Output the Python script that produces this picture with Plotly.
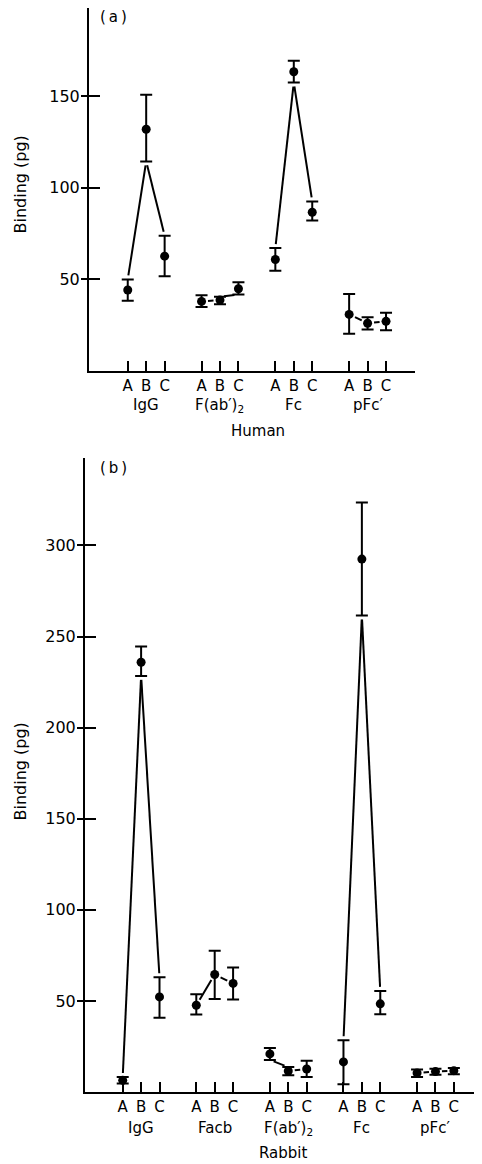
import plotly.graph_objects as go

# ---------------- data ----------------
human_groups = ["IgG", "F(ab′)<sub>2</sub>", "Fc", "pFc′"]
human_mean = [44.2, 132, 62.7, 38.0, 38.7, 44.9, 60.9, 163.4, 86.7, 30.9, 26.1, 27.1]
human_upper = [50.0, 150.8, 73.9, 41.3, 40.6, 48.4, 67.1, 169.4, 92.6, 42.0, 29.4, 31.8]
human_lower = [38.4, 114.4, 51.8, 34.9, 36.5, 41.8, 54.7, 157.5, 82.2, 20.4, 22.7, 22.2]

rabbit_groups = ["IgG", "Facb", "F(ab′)<sub>2</sub>", "Fc", "pFc′"]
rabbit_mean = [6.4, 235.9, 52.2, 47.6, 64.5, 59.6, 20.9, 11.5, 12.6, 16.5, 292.5, 48.4, 10.4, 11.2, 11.7]
rabbit_upper = [8.2, 244.5, 63.0, 53.7, 77.5, 68.4, 24.2, 13.7, 17.2, 28.4, 323.6, 55.5, 12.3, 12.8, 13.2]
rabbit_lower = [4.6, 228.4, 40.7, 42.5, 51.1, 50.8, 17.6, 9.2, 8.2, 4.2, 261.5, 42.7, 8.2, 9.5, 9.7]

letters = ["A", "B", "C"]
human_yticks = [50, 100, 150]
rabbit_yticks = [50, 100, 150, 200, 250, 300]

# ---------------- layout constants ----------------
PAGE_W, PAGE_H = 482, 1164
OFF = 8  # default body margin of the page
W, H = PAGE_W - OFF, PAGE_H - OFF
FONT = "DejaVu Sans"

# panel pixel boxes in page pixels: (left, right, top, bottom)
top_box = (89, 415, 8, 371)
bot_box = (85, 482, 458, 1092)
top_xr = [-2.1, 15.57]
top_yr = [0, 198.2]
bot_xr = [-2.05, 19.53]
bot_yr = [0, 348]


def px(p):
    return (p - OFF) / W


def py(p):
    return 1 - (p - OFF) / H


def positions(n_groups):
    return [g * 4 + k for g in range(n_groups) for k in range(3)]


def connectors(xs, mean, upper, lower, box, xr, yr):
    """Segments between neighbouring points of each group, trimmed near the marks."""
    pxx = (box[1] - box[0]) / (xr[1] - xr[0])
    pxy = (box[3] - box[2]) / (yr[1] - yr[0])
    lx, ly = [], []
    for g in range(len(xs) // 3):
        for k in range(2):
            i, j = g * 3 + k, g * 3 + k + 1
            if lower[j] > upper[i]:
                a, b, trim = upper[i], lower[j], 4.0
            elif upper[j] < lower[i]:
                a, b, trim = lower[i], upper[j], 4.0
            else:
                a, b, trim = mean[i], mean[j], 6.5
            dx = (xs[j] - xs[i]) * pxx
            dy = (b - a) * pxy
            L = (dx ** 2 + dy ** 2) ** 0.5
            f = trim / L
            x0 = xs[i] + (xs[j] - xs[i]) * f
            x1 = xs[j] - (xs[j] - xs[i]) * f
            y0 = a + (b - a) * f
            y1 = b - (b - a) * f
            lx += [x0, x1, None]
            ly += [y0, y1, None]
    return lx, ly


hx = positions(len(human_groups))
rx = positions(len(rabbit_groups))

fig = go.Figure()


def add_panel(xs, mean, upper, lower, box, xr, yr, xa, ya):
    lx, ly = connectors(xs, mean, upper, lower, box, xr, yr)
    fig.add_trace(go.Scatter(x=lx, y=ly, mode="lines", xaxis=xa, yaxis=ya,
                             line=dict(color="black", width=2), showlegend=False,
                             hoverinfo="skip"))
    fig.add_trace(go.Scatter(
        x=xs, y=mean, mode="markers", xaxis=xa, yaxis=ya, showlegend=False,
        marker=dict(color="black", size=9),
        error_y=dict(type="data", symmetric=False,
                     array=[u - m for u, m in zip(upper, mean)],
                     arrayminus=[m - l for m, l in zip(mean, lower)],
                     color="black", thickness=2, width=6)))


add_panel(hx, human_mean, human_upper, human_lower, top_box, top_xr, top_yr, "x", "y")
add_panel(rx, rabbit_mean, rabbit_upper, rabbit_lower, bot_box, bot_xr, bot_yr, "x2", "y2")


def xaxis(box, xr, xs, anchor):
    return dict(domain=[px(box[0]), min(1.0, px(box[1]))], range=xr, anchor=anchor,
                showgrid=False, zeroline=False,
                showline=True, linecolor="black", linewidth=2,
                tickmode="array", tickvals=xs, ticktext=letters * (len(xs) // 3),
                ticks="inside", ticklen=10, tickwidth=2, tickcolor="black",
                tickfont=dict(family=FONT, size=15, color="black"))


def yaxis(box, yr, tv, anchor):
    return dict(domain=[py(box[3]), min(1.0, py(box[2]))], range=yr, anchor=anchor,
                showgrid=False, zeroline=False,
                showline=True, linecolor="black", linewidth=2,
                tickmode="array", tickvals=tv, ticks="outside", ticklen=6, tickwidth=2,
                tickcolor="black", tickfont=dict(family=FONT, size=16, color="black"),
                ticklabelstandoff=-2,
                minor=dict(tickmode="array", tickvals=tv, ticks="inside", ticklen=11,
                           tickwidth=2, tickcolor="black", showgrid=False))


fig.update_layout(
    width=W, height=H, margin=dict(l=0, r=0, t=0, b=0),
    paper_bgcolor="white", plot_bgcolor="white",
    font=dict(family=FONT, color="black"),
    xaxis=xaxis(top_box, top_xr, hx, "y"),
    yaxis=yaxis(top_box, top_yr, human_yticks, "x"),
    xaxis2=xaxis(bot_box, bot_xr, rx, "y2"),
    yaxis2=yaxis(bot_box, bot_yr, rabbit_yticks, "x2"),
)

ann = []
C = dict(showarrow=False, xanchor="center", yanchor="middle")

for g, name in enumerate(human_groups):
    ann.append(dict(x=g * 4 + 1, y=py(405), xref="x", yref="paper", text=name,
                    font=dict(family=FONT, size=15), **C))
for g, name in enumerate(rabbit_groups):
    ann.append(dict(x=g * 4 + 1, y=py(1128), xref="x2", yref="paper", text=name,
                    font=dict(family=FONT, size=15), **C))

ann += [
    dict(x=px(258), y=py(431), xref="paper", yref="paper", text="Human",
         font=dict(family=FONT, size=15), **C),
    dict(x=px(283), y=py(1153), xref="paper", yref="paper", text="Rabbit",
         font=dict(family=FONT, size=15), **C),
    dict(x=px(113), y=py(17), xref="paper", yref="paper", text="(\u2009a\u2009)",
         font=dict(family=FONT, size=15), **C),
    dict(x=px(113), y=py(468), xref="paper", yref="paper", text="(\u2009b\u2009)",
         font=dict(family=FONT, size=15), **C),
    dict(x=px(20.5), y=py(185), xref="paper", yref="paper", text="Binding (pg)",
         textangle=-90, font=dict(family=FONT, size=16), **C),
    dict(x=px(19.5), y=py(772), xref="paper", yref="paper", text="Binding (pg)",
         textangle=-90, font=dict(family=FONT, size=16), **C),
]
fig.update_layout(annotations=ann)

fig.write_html("out.html")
